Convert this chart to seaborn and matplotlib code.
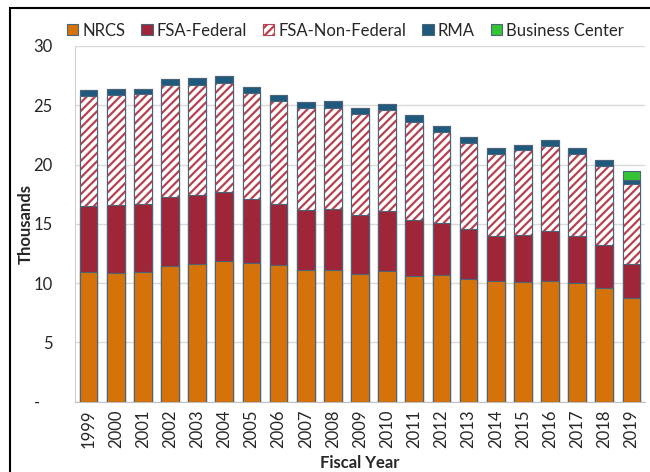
import numpy as np
import pandas as pd
import matplotlib.pyplot as plt
import matplotlib.patches as mpatches
import seaborn as sns

years = [str(y) for y in range(1999, 2020)]
nrcs = [10.92, 10.85, 10.92, 11.41, 11.58, 11.86, 11.69, 11.51, 11.08, 11.08, 10.77,
        11.05, 10.57, 10.72, 10.34, 10.15, 10.06, 10.21, 9.98, 9.57, 8.78]
fsa_federal = [5.61, 5.77, 5.75, 5.86, 5.87, 5.83, 5.42, 5.16, 5.05, 5.13, 5.01,
               5.03, 4.76, 4.33, 4.19, 3.81, 3.98, 4.15, 3.98, 3.67, 2.86]
fsa_non_federal = [9.25, 9.26, 9.27, 9.40, 9.29, 9.22, 8.96, 8.71, 8.65, 8.60, 8.52,
                   8.48, 8.30, 7.72, 7.28, 6.93, 7.16, 7.17, 6.90, 6.61, 6.72]
rma = [0.55, 0.52, 0.46, 0.52, 0.55, 0.54, 0.51, 0.50, 0.49, 0.54, 0.51,
       0.54, 0.54, 0.50, 0.48, 0.48, 0.47, 0.54, 0.54, 0.53, 0.35]
business_center = [0] * 20 + [0.78]

labels = ["NRCS", "FSA-Federal", "FSA-Non-Federal", "RMA", "Business Center"]
colors = ["#D5730A", "#9E2638", "white", "#1F5A7E", "#35C435"]
hatch_red = "#B8414F"
edge = "#4C6478"

sns.set_style("white")
plt.rcParams['font.family'] = ['Lato', 'DejaVu Sans']
plt.rcParams['hatch.linewidth'] = 1.6

df = pd.DataFrame({"year": years, "NRCS": nrcs, "FSA-Federal": fsa_federal,
                   "FSA-Non-Federal": fsa_non_federal, "RMA": rma,
                   "Business Center": business_center})
# cumulative tops, drawn tallest first so each layer covers the one behind
cum = df[labels].cumsum(axis=1)

fig = plt.figure(figsize=(6.5, 4.72), dpi=100)
ax = fig.add_axes([75 / 650, 1 - 401.6 / 472, 570 / 650, (401.6 - 46) / 472])

for lab, col in zip(labels[::-1], colors[::-1]):
    if lab == "FSA-Non-Federal":
        sns.barplot(x=df["year"], y=cum[lab], color="white", saturation=1,
                    width=0.65, edgecolor=hatch_red, hatch="////", linewidth=0,
                    errorbar=None, ax=ax, zorder=3)
        sns.barplot(x=df["year"], y=cum[lab], saturation=1, width=0.65,
                    facecolor="none", edgecolor=edge, linewidth=0.8,
                    errorbar=None, ax=ax, zorder=3)
    else:
        sns.barplot(x=df["year"], y=cum[lab], color=col, saturation=1,
                    width=0.65, edgecolor=edge, linewidth=0.8,
                    errorbar=None, ax=ax, zorder=3)

ax.set_ylim(0, 30)
ax.set_xlim(-0.5, 20.5)
ax.set_yticks(range(0, 31, 5))
ax.set_yticklabels(["-   "] + [str(v) for v in range(5, 31, 5)], fontsize=12)
ax.tick_params(axis="y", length=5, color="#BFBFBF", width=1, pad=11)
ax.tick_params(axis="x", length=0, rotation=90, labelsize=12, pad=6)
ax.yaxis.grid(True, color="#D9D9D9", linewidth=1, zorder=0)
ax.set_axisbelow(True)
for s in ["top", "right"]:
    ax.spines[s].set_visible(False)
ax.spines["left"].set_color("#D0D0D0")
ax.spines["bottom"].set_color("#BFBFBF")
ax.set_ylabel("Thousands", fontsize=12, fontweight="bold", labelpad=0)
ax.set_xlabel("Fiscal Year", fontsize=12, fontweight="bold", labelpad=5)

handles = []
for lab, col in zip(labels, colors):
    if lab == "FSA-Non-Federal":
        handles.append(mpatches.Patch(facecolor="white", edgecolor=hatch_red,
                                      hatch="////", linewidth=0.8, label=lab))
    else:
        handles.append(mpatches.Patch(facecolor=col, edgecolor=edge,
                                      linewidth=0.8, label=lab))
fig.legend(handles=handles, loc="center left", bbox_to_anchor=(67 / 650, 1 - 30.5 / 472),
           ncol=5, frameon=False, fontsize=12, handlelength=0.68, handleheight=0.68,
           handletextpad=0.25, columnspacing=0.95, borderpad=0, borderaxespad=0)

# outer frame
fig.add_artist(mpatches.Rectangle((10 / 650, -0.1), 1.2, 1 - 8 / 472 + 0.1,
                                  transform=fig.transFigure, fill=False,
                                  edgecolor="black", linewidth=1.5))

fig.savefig("out.png", dpi=100)
